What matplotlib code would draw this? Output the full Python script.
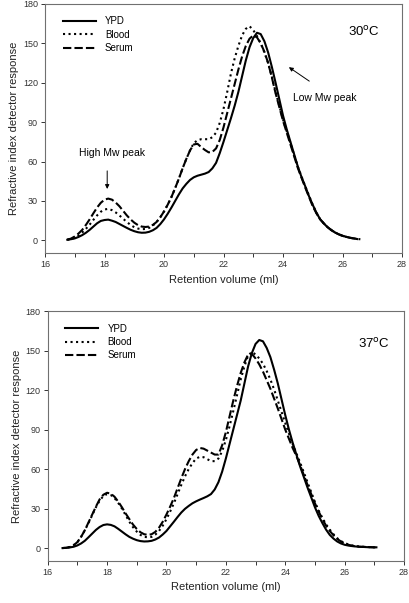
import numpy as np
import matplotlib.pyplot as plt
from matplotlib.ticker import MultipleLocator

plt.rcParams['font.family'] = ['Liberation Sans', 'DejaVu Sans']

# --- 30 C panel: retention volume (ml) vs RI detector response ---
x30 = [16.75, 16.875, 17.0, 17.125, 17.25, 17.375, 17.5, 17.625, 17.75, 17.875,
       18.0, 18.125, 18.25, 18.375, 18.5, 18.625, 18.75, 18.875, 19.0, 19.125,
       19.25, 19.375, 19.5, 19.625, 19.75, 19.875, 20.0, 20.125, 20.25, 20.375,
       20.5, 20.625, 20.75, 20.875, 21.0, 21.125, 21.25, 21.375, 21.5, 21.625,
       21.75, 21.875, 22.0, 22.125, 22.25, 22.375, 22.5, 22.625, 22.75, 22.875,
       23.0, 23.125, 23.25, 23.375, 23.5, 23.625, 23.75, 23.875, 24.0, 24.125,
       24.25, 24.375, 24.5, 24.625, 24.75, 24.875, 25.0, 25.125, 25.25, 25.375,
       25.5, 25.625, 25.75, 25.875, 26.0, 26.125, 26.25, 26.375, 26.5]
ypd30 = [0.5, 0.9, 1.5, 2.6, 4, 5.8, 8, 10.5, 13, 14.8,
         15.5, 15.8, 15, 14, 12.5, 11, 9.5, 8.1, 7, 6.2,
         5.8, 5.9, 6.5, 7.7, 9.5, 12.4, 16, 20.3, 25, 30,
         35, 39.5, 43, 46, 48, 49.2, 50, 50.8, 52, 54.8,
         59, 66.5, 75, 84, 93, 102.5, 113, 125, 137, 147,
         154, 158, 157, 151.5, 143, 132, 120, 107.5, 95, 84.5,
         75, 65.5, 56, 48, 41, 33.5, 27, 21, 16, 12.8,
         10, 7.8, 6, 4.6, 3.5, 2.7, 2, 1.5, 1]
blood30 = [0.5, 1.1, 2, 3.7, 6, 8.8, 12, 15.6, 19, 21.8,
           23.5, 24, 23, 21.3, 19, 16.5, 14, 11.8, 10, 9,
           8.5, 8.7, 9.5, 11.3, 14, 17.6, 22, 27.2, 33, 39.8,
           47, 54.8, 62, 68.5, 74, 76.2, 77, 77, 77, 78.5,
           82, 89.5, 100, 113, 127, 138.5, 148, 156, 161, 163,
           160, 155.5, 150, 143, 135, 124.5, 113, 102.5, 92, 83,
           74, 65, 56, 48.5, 41, 34, 27, 21, 16, 12.8,
           10, 7.8, 6, 4.6, 3.5, 2.7, 2, 1.5, 1]
x30_serum = x30 + [26.6]
serum30 = [0.5, 1.4, 3, 5.2, 8, 11.8, 16, 20.6, 25, 28.6,
           31, 31.8, 31, 28.8, 26, 22.5, 19, 16, 13.5, 11.6,
           10.5, 10.2, 10.5, 11.8, 14, 17.6, 22, 27.2, 33, 39.8,
           47, 54.8, 62, 68.5, 73, 73.5, 71, 68.8, 67, 67.3,
           70, 76.5, 86, 97, 108, 119, 130, 140, 148, 153.5,
           156, 154.5, 150, 143.5, 135, 124, 112, 101.5, 91, 82,
           73, 64, 55, 47.5, 40, 33, 26, 20.5, 16, 12.8,
           10, 7.8, 6, 4.6, 3.5, 2.7, 2, 1.5, 1.2, 0.8]

# --- 37 C panel ---
x37 = [16.5, 16.625] + x30 + [26.75, 27.0]
ypd37 = [0, 0.2, 0.5, 1, 2, 3.5, 5.5, 8.2, 11, 13.8,
         16, 17.5, 18, 17.6, 16.5, 14.6, 12.5, 10.4, 8.5, 7.1,
         6, 5.3, 5, 5.1, 5.5, 6.5, 8, 10.3, 13, 16.5,
         20, 23.6, 27, 29.8, 32, 34, 35.5, 36.8, 38, 39.3,
         41, 44.5, 50, 58, 68, 79, 90, 101, 112, 125,
         138, 148, 155, 158, 157, 152, 145, 135.5, 125, 113,
         101, 90, 80, 71, 62, 54, 46, 38.5, 31, 24.5,
         19, 14, 10, 7.2, 5, 3.5, 2.5, 1.9, 1.5, 1.2,
         1, 0.7, 0.5]
blood37 = [0, 0.2, 0.8, 2.2, 4.5, 8.5, 13.5, 19, 25, 31,
           36, 39.5, 41, 40.3, 38, 34.3, 30, 25, 20, 15.8,
           12.5, 10, 8.5, 8.2, 8.5, 10.2, 13, 17, 22, 27.8,
           34, 41, 48, 54.5, 60, 64.5, 68, 69.3, 69, 67.5,
           66, 66, 68, 73.5, 82, 92.5, 104, 116, 128, 138,
           146, 149, 147, 144, 140, 134.5, 128, 120.5, 112, 103.5,
           95, 87, 79, 72, 65, 57.5, 50, 42.5, 35, 28.5,
           23, 18, 14, 10.5, 7.5, 5.3, 3.8, 2.8, 2, 1.5,
           1.2, 0.8, 0.6]
x37_serum = x37 + [27.2]
serum37 = [0, 0.2, 0.8, 2.2, 4.5, 8.5, 13.5, 19.5, 25.5, 31.5,
           37, 40.5, 42, 41.3, 39, 35.3, 31, 26.3, 22, 17.8,
           14.5, 12, 10.5, 10, 10.5, 12.3, 15.5, 20, 25.5, 31.5,
           38, 45.5, 53, 60, 66, 71, 74.5, 76, 75.5, 74,
           72.5, 71, 71, 78, 88, 100, 112, 123, 133, 141,
           147, 147.5, 144, 139.5, 134, 127.5, 121, 113.5, 106, 98,
           90, 83, 76, 70, 63, 55.5, 48, 41, 34, 27.8,
           22, 17, 13, 9.7, 7, 5, 3.5, 2.5, 1.8, 1.3,
           1, 0.8, 0.6, 0.5]

fig = plt.figure(figsize=(4.1, 6.03), dpi=100)
ax1 = fig.add_axes([0.1098, 0.58, 0.8707, 0.4136])
ax2 = fig.add_axes([0.1163, 0.0697, 0.8691, 0.4145])

lw = 1.5


def style(ax):
    ax.set_xlim(16, 28)
    ax.set_ylim(-9.8, 180)
    ax.xaxis.set_major_locator(MultipleLocator(2))
    ax.xaxis.set_minor_locator(MultipleLocator(1))
    ax.yaxis.set_major_locator(MultipleLocator(30))
    ax.tick_params(which='both', direction='out', length=3, width=0.7,
                   labelsize=6.5, colors='#333333', pad=2)
    ax.tick_params(axis='y', which='minor', left=False)
    for s in ax.spines.values():
        s.set_color('#707070')
        s.set_linewidth(0.8)
    ax.set_xlabel('Retention volume (ml)', fontsize=8, color='#222222', labelpad=4)
    ax.set_ylabel('Refractive index detector response', fontsize=8,
                  color='#222222', labelpad=3)


panels = [(ax1, x30, ypd30, blood30, x30_serum, serum30),
          (ax2, x37, ypd37, blood37, x37_serum, serum37)]
for ax, x, y1, y2, xs, y3 in panels:
    ax.plot(x, y1, color='black', lw=lw, ls='-', label='YPD')
    ax.plot(x, y2, color='black', lw=lw, ls=':', label='Blood')
    ax.plot(xs, y3, color='black', lw=lw, ls='--', dashes=(4, 1.5), label='Serum')
    style(ax)
    ax.legend(loc='upper left', bbox_to_anchor=(0.025, 0.985), frameon=False,
              fontsize=7, handlelength=3.4, handletextpad=0.95, labelspacing=0.35)

ax1.text(26.2, 159, r'30$^{\mathrm{o}}$C', fontsize=9.5, va='center', ha='left')
ax2.text(26.44, 155, r'37$^{\mathrm{o}}$C', fontsize=9.5, va='center', ha='left')

ax1.text(24.34, 108, 'Low Mw peak', fontsize=7.5, va='center', ha='left')
ax1.annotate('', xy=(24.12, 133), xytext=(24.96, 120),
             arrowprops=dict(arrowstyle='-|>', color='black', lw=0.7,
                             mutation_scale=6))
ax1.text(18.24, 66.5, 'High Mw peak', fontsize=7.5, va='center', ha='center')
ax1.annotate('', xy=(18.09, 37), xytext=(18.09, 55),
             arrowprops=dict(arrowstyle='-|>', color='black', lw=0.7,
                             mutation_scale=6))

fig.savefig('out.png', dpi=100)
